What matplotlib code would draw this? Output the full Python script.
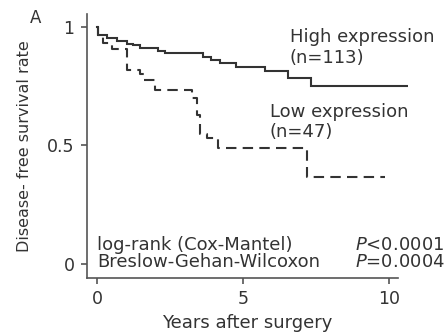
import matplotlib
matplotlib.use("Agg")
import matplotlib.pyplot as plt

# High expression (n=113) Kaplan-Meier steps (time in years, survival after step)
high_t = [0.0, 0.02, 0.35, 0.68, 1.03, 1.23, 1.47, 2.10, 2.33, 3.63, 3.90, 4.20, 4.76, 5.75, 6.54, 7.33, 10.6]
high_s = [1.0, 0.965, 0.953, 0.94, 0.93, 0.922, 0.913, 0.90, 0.89, 0.875, 0.86, 0.848, 0.83, 0.815, 0.785, 0.75, 0.75]

# Low expression (n=47)
low_t = [0.0, 0.02, 0.20, 0.50, 1.03, 1.47, 1.60, 1.99, 3.25, 3.42, 3.53, 3.77, 4.14, 7.20, 9.86]
low_s = [1.0, 0.965, 0.934, 0.907, 0.82, 0.80, 0.776, 0.734, 0.70, 0.63, 0.55, 0.53, 0.49, 0.367, 0.367]

x_ticks = [0, 5, 10]
y_ticks = [0, 0.5, 1]
y_tick_labels = ["0", "0.5", "1"]

TXT = "#333333"
FS = 13

plt.rcParams['font.family'] = ['DejaVu Sans']

fig = plt.figure(figsize=(4.46, 3.36), dpi=100)
ax = fig.add_axes([87/446, 1 - 278/336, 321/446, 264/336])

ax.step(high_t, high_s, where='post', color='#333333', lw=1.5, solid_joinstyle='miter')
ax.step(low_t, low_s, where='post', color='#333333', lw=1.5, dashes=(5, 3))

ax.set_xlim(-0.34, 10.65)
ax.set_ylim(-0.06, 1.055)
for s in ['top', 'right']:
    ax.spines[s].set_visible(False)
for s in ['left', 'bottom']:
    ax.spines[s].set_color('#555555')
    ax.spines[s].set_linewidth(1.2)
ax.spines['bottom'].set_bounds(-0.34, 10.3)

ax.set_xticks(x_ticks)
ax.set_yticks(y_ticks)
ax.set_yticklabels(y_tick_labels)
ax.tick_params(axis='both', direction='out', length=4, width=1.2, color='#555555',
               labelsize=12.5, labelcolor=TXT, pad=5)

ax.set_xlabel("Years after surgery", fontsize=FS, color=TXT, labelpad=4)
ax.set_ylabel("Disease- free survival rate", fontsize=11.5, color=TXT)
ax.yaxis.set_label_coords(-0.171, 0.5)

ax.text(6.61, 0.937, "High expression", fontsize=FS, color=TXT, ha='left', va='baseline')
ax.text(6.61, 0.848, "(n=113)", fontsize=FS, color=TXT, ha='left', va='baseline')
ax.text(5.92, 0.62, "Low expression", fontsize=FS, color=TXT, ha='left', va='baseline')
ax.text(5.92, 0.536, "(n=47)", fontsize=FS, color=TXT, ha='left', va='baseline')

ax.text(0.0, 0.059, "log-rank (Cox-Mantel)", fontsize=FS, color=TXT, ha='left', va='baseline')
ax.text(0.0, -0.013, "Breslow-Gehan-Wilcoxon", fontsize=FS, color=TXT, ha='left', va='baseline')
ax.text(8.84, 0.059, r"$\mathit{P}$<0.0001", fontsize=FS, color=TXT, ha='left', va='baseline')
ax.text(8.84, -0.013, r"$\mathit{P}$=0.0004", fontsize=FS, color=TXT, ha='left', va='baseline')

fig.text(36/446, 1 - 23/336, "A", fontsize=12, color=TXT, ha='center', va='baseline')

fig.savefig("out.png", dpi=100)
